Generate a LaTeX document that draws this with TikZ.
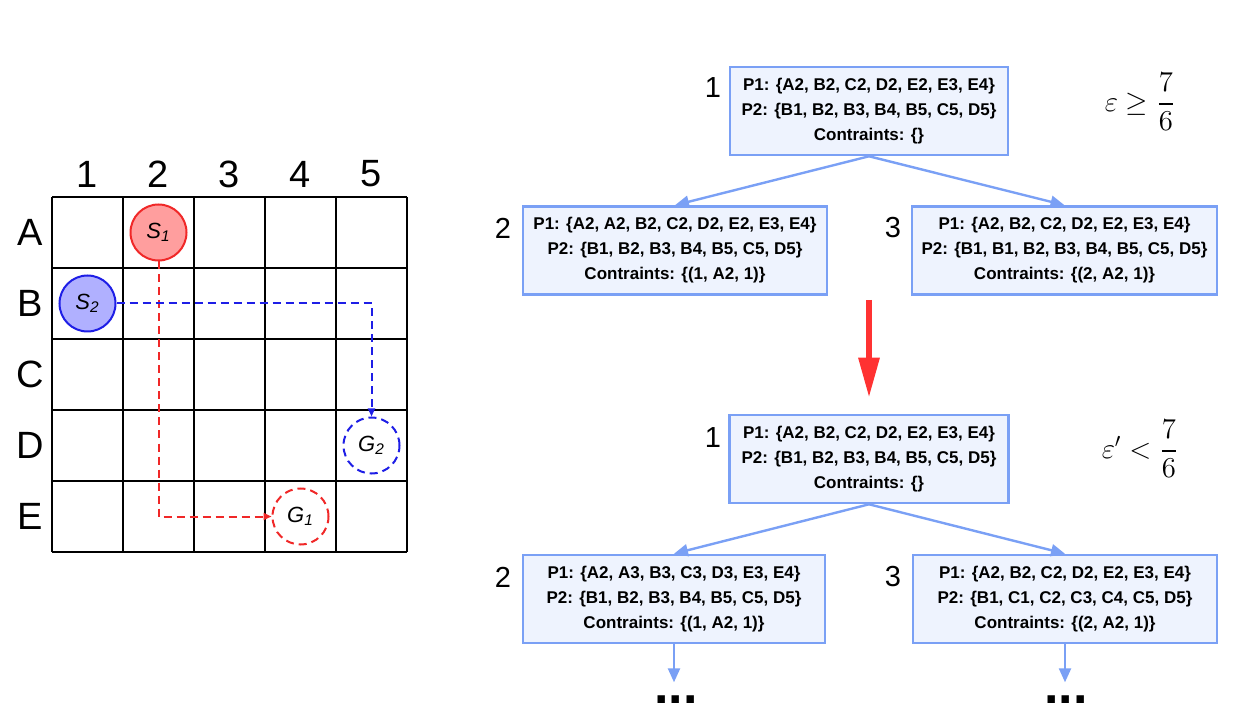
\documentclass[tikz,border=0pt]{standalone}
\usepackage{amsmath}
\usepackage[no-math]{fontspec}
\setmainfont{Liberation Sans}
\usepackage{tikz}
\usetikzlibrary{arrows.meta,positioning,calc}
\definecolor{boxline}{RGB}{122,160,245}
\definecolor{boxfill}{RGB}{238,243,254}
\definecolor{pathred}{RGB}{240,40,40}
\definecolor{pathblue}{RGB}{30,30,230}
\definecolor{arrowred}{RGB}{255,50,50}

\tikzset{
  state/.style={rectangle,draw=boxline,fill=boxfill,line width=1.3pt,align=center,
    font=\fontsize{8.5}{12.5}\selectfont\bfseries,minimum height=44pt,inner sep=0pt},
  agent/.style={circle,minimum size=28pt,inner sep=0pt,line width=1pt,
    font=\fontsize{11}{12}\selectfont\itshape},
  goal/.style={agent,dashed,dash pattern=on 4pt off 2.5pt,fill=white},
  route/.style={line width=1pt,dash pattern=on 4pt off 2.5pt,-{Triangle[length=4pt,width=3.5pt]}},
  lbl/.style={font=\fontsize{19}{22}\selectfont},
  num/.style={font=\fontsize{14.5}{16}\selectfont},
  dots/.style={font=\fontsize{26}{30}\selectfont\bfseries,anchor=base},
}

\begin{document}
\begin{tikzpicture}[x=0.5pt,y=-0.5pt,>={Triangle[length=7pt,width=6pt]}]
   \useasboundingbox (0,0) rectangle (1240,726);
   % grid
   \foreach \i in {0,...,5} {
    \draw[line width=0.8pt] (52+71*\i,197) -- (52+71*\i,552);
    \draw[line width=0.8pt] (52,197+71*\i) -- (407,197+71*\i);
   }
   \foreach \c [count=\i] in {1,...,5}
    \node[lbl] (col\c) at (16.5+71*\i,174) {\c};
   \foreach \r [count=\j] in {A,B,C,D,E}
    \node[lbl] (row\r) at (30,161.5+71*\j) {\r};
   % agents and goals
   \node[agent,draw=pathred,fill=red!38] (S1) at (158.5,232.5) {S\textsubscript{1}};
   \node[agent,draw=pathblue,fill=blue!31] (S2) at (87.5,303.5) {S\textsubscript{2}};
   \node[goal,draw=pathblue] (G2) at (371.5,445.5) {G\textsubscript{2}};
   \node[goal,draw=pathred] (G1) at (300.5,516.5) {G\textsubscript{1}};
   \draw[route,pathred] (S1.south) -- (S1 |- G1) -- (G1.west);
   \draw[route,pathblue] (S2.east) -- (G2 |- S2) -- (G2.north);

   % search trees
   \begin{scope}[every node/.style={state}]
    \node (top1) [minimum width=139pt] at (869,111)
     {P1: \{A2, B2, C2, D2, E2, E3, E4\}\\P2: \{B1, B2, B3, B4, B5, C5, D5\}\\Contraints: \{\}};
    \node (top2) [minimum width=152pt] at (675,250.5)
     {P1: \{A2, A2, B2, C2, D2, E2, E3, E4\}\\P2: \{B1, B2, B3, B4, B5, C5, D5\}\\Contraints: \{(1, A2, 1)\}};
    \node (top3) [minimum width=152.5pt] at (1064.5,250.5)
     {P1: \{A2, B2, C2, D2, E2, E3, E4\}\\P2: \{B1, B1, B2, B3, B4, B5, C5, D5\}\\Contraints: \{(2, A2, 1)\}};
    \node (bot1) [minimum width=139.5pt] at (869,459)
     {P1: \{A2, B2, C2, D2, E2, E3, E4\}\\P2: \{B1, B2, B3, B4, B5, C5, D5\}\\Contraints: \{\}};
    \node (bot2) [minimum width=151pt] at (674,599)
     {P1: \{A2, A3, B3, C3, D3, E3, E4\}\\P2: \{B1, B2, B3, B4, B5, C5, D5\}\\Contraints: \{(1, A2, 1)\}};
    \node (bot3) [minimum width=152pt] at (1065,599)
     {P1: \{A2, B2, C2, D2, E2, E3, E4\}\\P2: \{B1, C1, C2, C3, C4, C5, D5\}\\Contraints: \{(2, A2, 1)\}};
   \end{scope}
   \node[num] (n1a) at (713,88) {1};
   \node[num] (n2a) at (503,228) {2};
   \node[num] (n3a) at (893,228) {3};
   \node[num] (n1b) at (713,438) {1};
   \node[num] (n2b) at (503,577) {2};
   \node[num] (n3b) at (893,577) {3};
   \node (epsA) at (1140,102) {\fontsize{14}{17}\selectfont$\varepsilon \geq \dfrac{7}{6}$};
   \node (epsB) at (1140,449) {\fontsize{14}{17}\selectfont$\varepsilon' < \dfrac{7}{6}$};
   \node[dots] (dotsL) at (676,703) {...};
   \node[dots] (dotsR) at (1066,703) {...};

   \begin{scope}[every edge/.style={draw=boxline,line width=1.2pt,->}]
    \path (top1.south) edge (top2.north);
    \path (top1.south) edge (top3.north);
    \path (bot1.south) edge (bot2.north);
    \path (bot1.south) edge (bot3.north);
    \path (bot2.south) edge ++(0,38);
    \path (bot3.south) edge ++(0,38);
   \end{scope}
   \coordinate (gap) at (869,300);
   \draw[arrowred,line width=3pt,-{Triangle[length=20pt,width=10pt]},shorten >=8pt]
    (gap) -- (gap |- bot1.north);
\end{tikzpicture}
\end{document}
